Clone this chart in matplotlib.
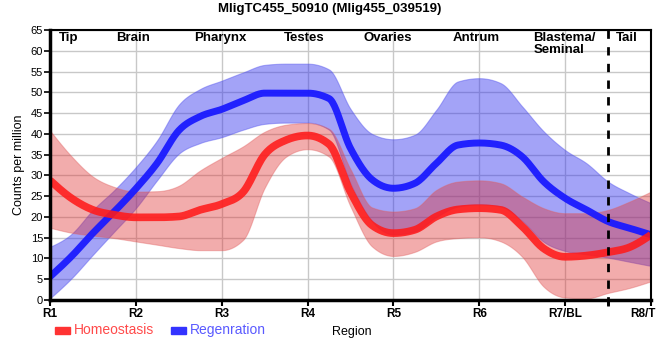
import numpy as np
import matplotlib
matplotlib.use('Agg')
import matplotlib.pyplot as plt
import matplotlib.transforms as mtransforms
from matplotlib.patches import Rectangle

plt.rcParams['font.family'] = ['Liberation Sans', 'DejaVu Sans']

# positions along the body (R1 = 0 ... R8/T = 7), quarter steps
pos = np.arange(0, 7.01, 0.25)
region_ticks = ['R1', 'R2', 'R3', 'R4', 'R5', 'R6', 'R7/BL', 'R8/T']

homeo_mean = [28.8, 24.5, 21.7, 20.5, 19.9, 19.9, 20.1, 21.7, 23.1, 26.0, 35.0, 38.5,
              39.6, 37.5, 26.0, 18.0, 16.1, 16.9, 20.1, 21.8, 22.1, 21.7, 17.7, 12.4,
              10.4, 10.7, 11.5, 12.7, 15.7]
homeo_hi = [40.8, 34.6, 29.7, 27.2, 26.1, 26.2, 27.5, 31.2, 34.2, 37.0, 40.5, 42.2,
            42.6, 41.2, 31.5, 22.3, 21.3, 22.1, 26.5, 28.5, 28.8, 28.1, 24.9, 22.1,
            20.9, 20.9, 21.7, 23.7, 26.1]
homeo_lo = [17.4, 16.2, 15.5, 14.9, 14.1, 13.3, 12.5, 12.0, 12.0, 14.5, 27.0, 34.5,
            36.3, 34.5, 22.5, 12.9, 10.6, 11.6, 14.1, 14.9, 15.1, 14.1, 10.4, 3.2,
            0.6, 0.4, 1.7, 2.9, 4.5]

regen_mean = [5.6, 10.5, 16.1, 21.3, 26.8, 33.0, 40.8, 44.2, 45.9, 48.0, 49.8, 49.8,
              49.8, 48.5, 36.5, 29.0, 26.9, 28.1, 32.9, 37.3, 37.8, 37.3, 34.5, 28.5,
              24.5, 21.7, 18.9, 17.3, 15.7]
regen_hi = [12.8, 15.9, 21.7, 26.5, 32.0, 38.5, 47.0, 50.8, 52.8, 54.8, 56.6, 56.9,
            56.9, 55.5, 46.0, 40.0, 38.7, 39.8, 45.8, 52.6, 53.4, 52.2, 46.6, 40.6,
            36.1, 32.9, 28.5, 25.7, 23.3]
regen_lo = [0.4, 5.2, 10.9, 16.5, 22.1, 28.9, 35.2, 37.8, 39.2, 41.0, 42.4, 42.7,
            42.7, 41.0, 28.0, 19.0, 15.8, 16.5, 20.0, 22.5, 23.0, 22.5, 19.0, 14.0,
            11.8, 11.0, 10.2, 9.2, 8.2]

tissues = ['Tip', 'Brain', 'Pharynx', 'Testes', 'Ovaries', 'Antrum', 'Tail']
tissue_x = [0.22, 0.965, 1.98, 2.96, 3.93, 4.97, 6.72]


# monotone cubic curve (like d3 curveMonotoneX)
def monotone(x, y, n=24):
    x = np.asarray(x, float)
    y = np.asarray(y, float)
    h = np.diff(x)
    s = np.diff(y) / h
    m = np.zeros_like(y)
    for i in range(1, len(y) - 1):
        p = (s[i - 1] * h[i] + s[i] * h[i - 1]) / (h[i - 1] + h[i])
        m[i] = (np.sign(s[i - 1]) + np.sign(s[i])) * min(abs(s[i - 1]), abs(s[i]), 0.5 * abs(p))
    m[0] = (3 * s[0] - m[1]) / 2
    m[-1] = (3 * s[-1] - m[-2]) / 2
    xs, ys = [], []
    for i in range(len(h)):
        t = np.linspace(0, 1, n, endpoint=False)
        h00 = 2 * t**3 - 3 * t**2 + 1
        h10 = t**3 - 2 * t**2 + t
        h01 = -2 * t**3 + 3 * t**2
        h11 = t**3 - t**2
        xs.append(x[i] + t * h[i])
        ys.append(h00 * y[i] + h10 * h[i] * m[i] + h01 * y[i + 1] + h11 * h[i] * m[i + 1])
    xs.append([x[-1]])
    ys.append([y[-1]])
    return np.concatenate(xs), np.concatenate(ys)


fig = plt.figure(figsize=(6.6, 3.6), dpi=100)
ax = fig.add_axes([50 / 660, 60 / 360, 601 / 660, 270 / 360])

# regeneration first, homeostasis on top
xr, yr_lo = monotone(pos, regen_lo)
_, yr_hi = monotone(pos, regen_hi)
_, yr = monotone(pos, regen_mean)
ax.fill_between(xr, yr_lo, yr_hi, color='#3333ee', alpha=0.45, lw=0.8, edgecolor='#5555ee')
ax.plot(xr, yr, color='#1a1aff', lw=5, alpha=0.95, solid_capstyle='butt')

xh, yh_lo = monotone(pos, homeo_lo)
_, yh_hi = monotone(pos, homeo_hi)
_, yh = monotone(pos, homeo_mean)
ax.fill_between(xh, yh_lo, yh_hi, color='#e03030', alpha=0.4, lw=0.8, edgecolor='#e06060')
ax.plot(xh, yh, color='#ff1a1a', lw=5.5, alpha=0.88, solid_capstyle='butt')

ax.axvline(6.5, color='black', lw=2, ls=(0, (3, 3)), ymin=-0.02, clip_on=False)

ax.set_xlim(0, 7)
ax.set_ylim(0, 65)
ax.set_xticks(range(8))
ax.set_xticks([6.5], minor=True)
ax.set_xticklabels(region_ticks, fontsize=8.5, fontweight='bold')
ax.set_yticks(range(0, 66, 5))
ax.tick_params(axis='y', labelsize=8, length=4, width=1.2, pad=1)
ax.tick_params(axis='x', length=4, width=1.5, pad=2)
ax.tick_params(axis='x', which='minor', length=4, width=2)
ax.grid(color='#c8c8c8', lw=1)
ax.set_axisbelow(True)
for side in ['left', 'bottom']:
    ax.spines[side].set_linewidth(2.5)
for side in ['top', 'right']:
    ax.spines[side].set_linewidth(1.5)

# last tick label sits on the figure edge: nudge it left so it stays readable
last = ax.get_xticklabels()[-1]
last.set_transform(last.get_transform() + mtransforms.ScaledTranslation(-8 / 100, 0, fig.dpi_scale_trans))

ax.set_ylabel('Counts per million', fontsize=9, labelpad=4)

for name, tx in zip(tissues, tissue_x):
    ax.text(tx, 64.4, name, ha='center', va='top', fontsize=9.5, fontweight='bold')
ax.text(5.63, 64.4, 'Blastema/\nSeminal', ha='left', va='top', fontsize=9.5,
        fontweight='bold', linespacing=1.0)

fig.text(0.5, 1 - 9 / 360, 'MligTC455_50910 (Mlig455_039519)', ha='center', va='center',
         fontsize=9.5, fontweight='bold')

# legend and axis title below the chart
fig.add_artist(Rectangle((55 / 660, 1 - 334 / 360), 15 / 660, 7 / 360,
                         transform=fig.transFigure, color='#ff3333'))
fig.text(74 / 660, 1 - 330 / 360, 'Homeostasis', color='#ff4a4a', fontsize=10, va='center')
fig.add_artist(Rectangle((171 / 660, 1 - 334 / 360), 15 / 660, 7 / 360,
                         transform=fig.transFigure, color='#3333ff'))
fig.text(190 / 660, 1 - 330 / 360, 'Regenration', color='#5a5aff', fontsize=10, va='center')
fig.text(352 / 660, 1 - 332 / 360, 'Region', color='black', fontsize=9, ha='center', va='center')

fig.savefig('out.png', dpi=100)
